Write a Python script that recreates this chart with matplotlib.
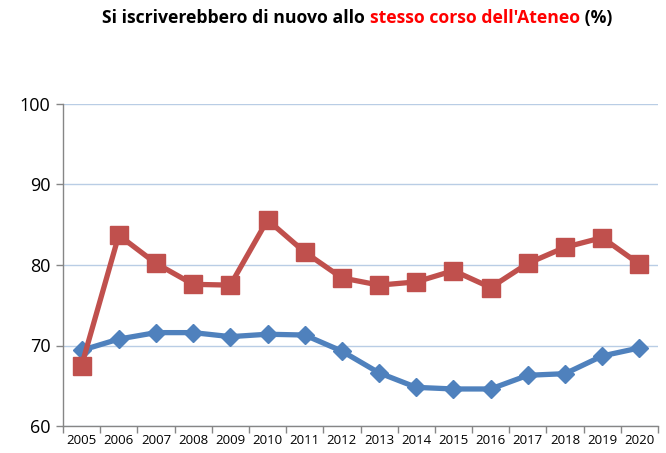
import matplotlib
matplotlib.use("Agg")
import matplotlib.pyplot as plt
import numpy as np

years = [str(y) for y in range(2005, 2021)]
corso_ateneo = [67.5, 83.7, 80.2, 77.6, 77.5, 85.6, 81.6, 78.4, 77.5, 77.9, 79.3, 77.2, 80.2, 82.2, 83.4, 80.1]
blu = [69.4, 70.8, 71.6, 71.6, 71.1, 71.4, 71.3, 69.3, 66.6, 64.8, 64.6, 64.6, 66.3, 66.5, 68.7, 69.7]
y_ticks = [60, 70, 80, 90, 100]

RED = "#C0504D"
BLUE = "#4F81BD"
GREY = "#868686"

plt.rcParams["font.family"] = ["Open Sans", "DejaVu Sans"]

fig = plt.figure(figsize=(6.66, 4.53), dpi=100)
ax = fig.add_axes([63 / 666, 27 / 453, 595 / 666, 322 / 453])

x = np.arange(len(years))
ax.plot(x, blu, color=BLUE, lw=3.8, marker="D", ms=9.5, mfc=BLUE, mec=BLUE, zorder=3)
ax.plot(x, corso_ateneo, color=RED, lw=3.8, marker="s", ms=13, mfc=RED, mec=RED, zorder=4)

ax.set_xlim(-0.5, len(years) - 0.5)
ax.set_ylim(60, 100)
ax.set_yticks(y_ticks)
ax.set_yticklabels([str(v) for v in y_ticks], fontsize=13)
ax.set_xticks(x)
ax.set_xticklabels(years, fontsize=9.5)
ax.set_xticks(np.arange(-0.5, len(years)), minor=True)
ax.tick_params(axis="x", which="major", length=0, pad=6)
ax.tick_params(axis="x", which="minor", length=5, color=GREY, width=1)
ax.tick_params(axis="y", length=5, color=GREY, width=1, pad=4)
ax.grid(axis="y", color="#B9CDE5", lw=1)
ax.set_axisbelow(True)
for s in ["top", "right"]:
    ax.spines[s].set_visible(False)
for s in ["left", "bottom"]:
    ax.spines[s].set_color(GREY)
    ax.spines[s].set_linewidth(1)
    ax.spines[s].set_zorder(2)

# title in three pieces
t1 = fig.text(102 / 666, 1 - 18 / 453, "Si iscriverebbero di nuovo allo ", fontsize=12.7,
              fontweight="bold", color="black", va="center", ha="left")
t2 = ax.annotate("stesso corso dell'Ateneo", xy=(1, 0), xycoords=t1, va="bottom", ha="left",
                 fontsize=12.7, fontweight="bold", color="#FF0000")
t3 = ax.annotate(" (%)", xy=(1, 0), xycoords=t2, va="bottom", ha="left",
                 fontsize=12.7, fontweight="bold", color="black")

fig.savefig("out.png", dpi=100)
